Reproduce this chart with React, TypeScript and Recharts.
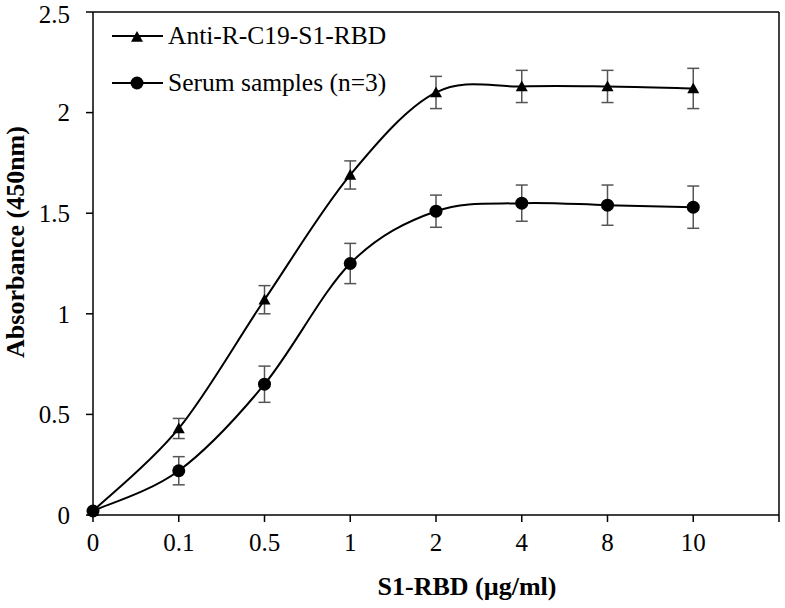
import React from "react";
import {
  LineChart,
  Line,
  XAxis,
  YAxis,
  ErrorBar,
  ReferenceLine,
  Legend,
  Label,
} from "recharts";

const categories = ["0", "0.1", "0.5", "1", "2", "4", "8", "10"];
const antiValues = [0.02, 0.43, 1.07, 1.69, 2.1, 2.13, 2.13, 2.12];
const antiErrors = [0, 0.05, 0.07, 0.07, 0.08, 0.08, 0.08, 0.1];
const serumValues = [0.02, 0.22, 0.65, 1.25, 1.51, 1.55, 1.54, 1.53];
const serumErrors = [0, 0.07, 0.09, 0.1, 0.08, 0.09, 0.1, 0.105];
const yTicks = [0, 0.5, 1, 1.5, 2, 2.5];
const xTicks = [0, 1, 2, 3, 4, 5, 6, 7, 8];

const data = categories.map((c, i) => ({
  x: i,
  label: c,
  anti: antiValues[i],
  antiErr: antiErrors[i],
  serum: serumValues[i],
  serumErr: serumErrors[i],
}));

const FONT = "'Liberation Serif', 'Times New Roman', serif";

// Catmull-Rom style smoothing, close to Excel's smoothed line
function smoothCurve(context: any) {
  let pts: number[][] = [];
  return {
    areaStart() {},
    areaEnd() {},
    lineStart() {
      pts = [];
    },
    point(x: number, y: number) {
      pts.push([+x, +y]);
    },
    lineEnd() {
      if (!pts.length) return;
      context.moveTo(pts[0][0], pts[0][1]);
      const t = 1 / 6;
      for (let i = 0; i < pts.length - 1; i++) {
        const p0 = pts[i - 1] || pts[i];
        const p1 = pts[i];
        const p2 = pts[i + 1];
        const p3 = pts[i + 2] || pts[i + 1];
        context.bezierCurveTo(
          p1[0] + (p2[0] - p0[0]) * t,
          p1[1] + (p2[1] - p0[1]) * t,
          p2[0] - (p3[0] - p1[0]) * t,
          p2[1] - (p3[1] - p1[1]) * t,
          p2[0],
          p2[1]
        );
      }
    },
  };
}

const triPath = (cx: number, cy: number, s = 6) =>
  `M${cx},${cy - s} L${cx + s},${cy + s * 0.8} L${cx - s},${cy + s * 0.8} Z`;

const TriangleDot = (props: any) => {
  const { cx, cy, index } = props;
  if (cx == null || cy == null) return <g key={index} />;
  return <path key={index} d={triPath(cx, cy)} fill="#000" />;
};

const CircleDot = (props: any) => {
  const { cx, cy, index } = props;
  if (cx == null || cy == null) return <g key={index} />;
  return <circle key={index} cx={cx} cy={cy} r={6.5} fill="#000" />;
};

const LegendBox = () => (
  <div style={{ fontFamily: FONT, fontSize: 25.5, color: "#000", lineHeight: "47px" }}>
    <div style={{ display: "flex", alignItems: "center" }}>
      <svg width={56} height={20}>
        <line x1={0} y1={10} x2={51} y2={10} stroke="#000" strokeWidth={2} />
        <path d={triPath(25, 11)} fill="#000" />
      </svg>
      <span>Anti-R-C19-S1-RBD</span>
    </div>
    <div style={{ display: "flex", alignItems: "center" }}>
      <svg width={56} height={20}>
        <line x1={0} y1={10} x2={51} y2={10} stroke="#000" strokeWidth={2} />
        <circle cx={25} cy={10} r={6.5} fill="#000" />
      </svg>
      <span>Serum samples (n=3)</span>
    </div>
  </div>
);

export default function App() {
  return (
    <div style={{ position: "absolute", left: 0, top: 0, width: 785, height: 608, background: "#fff" }}>
      <LineChart
        width={785}
        height={608}
        data={data}
        margin={{ top: 12, right: 6, bottom: 0, left: 0 }}
      >
        <XAxis
          dataKey="x"
          type="number"
          domain={[0, 8]}
          ticks={xTicks}
          tickFormatter={(v: number) => categories[v] ?? ""}
          height={93}
          stroke="#000"
          strokeWidth={1.5}
          tickSize={7}
          tickMargin={11}
          tick={{ fill: "#000", fontSize: 25, fontFamily: FONT }}
        >
          <Label
            content={() => (
              <text
                x={467}
                y={595}
                textAnchor="middle"
                fontFamily={FONT}
                fontWeight="bold"
                fontSize={26}
                fill="#000"
              >
                S1-RBD (µg/ml)
              </text>
            )}
          />
        </XAxis>
        <YAxis
          type="number"
          domain={[0, 2.5]}
          ticks={yTicks}
          width={93}
          stroke="#000"
          strokeWidth={1.5}
          tickSize={7}
          tickMargin={16}
          tick={{ fill: "#000", fontSize: 25, fontFamily: FONT }}
        >
          <Label
            content={() => (
              <text
                x={24}
                y={242}
                transform="rotate(-90 24 242)"
                textAnchor="middle"
                fontFamily={FONT}
                fontWeight="bold"
                fontSize={26}
                fill="#000"
              >
                Absorbance (450nm)
              </text>
            )}
          />
        </YAxis>
        <ReferenceLine y={2.5} stroke="#000" strokeWidth={1.5} />
        <ReferenceLine x={8} stroke="#000" strokeWidth={1.5} />
        <Legend
          verticalAlign="top"
          align="left"
          content={<LegendBox />}
          wrapperStyle={{ left: 112, top: 12, width: 340, height: 0, overflow: "visible" }}
        />
        <Line
          dataKey="anti"
          type={smoothCurve as any}
          stroke="#000"
          strokeWidth={2}
          dot={TriangleDot}
          activeDot={false}
          isAnimationActive={false}
        >
          <ErrorBar dataKey="antiErr" width={6} stroke="#555" strokeWidth={1.5} direction="y" />
        </Line>
        <Line
          dataKey="serum"
          type={smoothCurve as any}
          stroke="#000"
          strokeWidth={2}
          dot={CircleDot}
          activeDot={false}
          isAnimationActive={false}
        >
          <ErrorBar dataKey="serumErr" width={6} stroke="#555" strokeWidth={1.5} direction="y" />
        </Line>
      </LineChart>
    </div>
  );
}
